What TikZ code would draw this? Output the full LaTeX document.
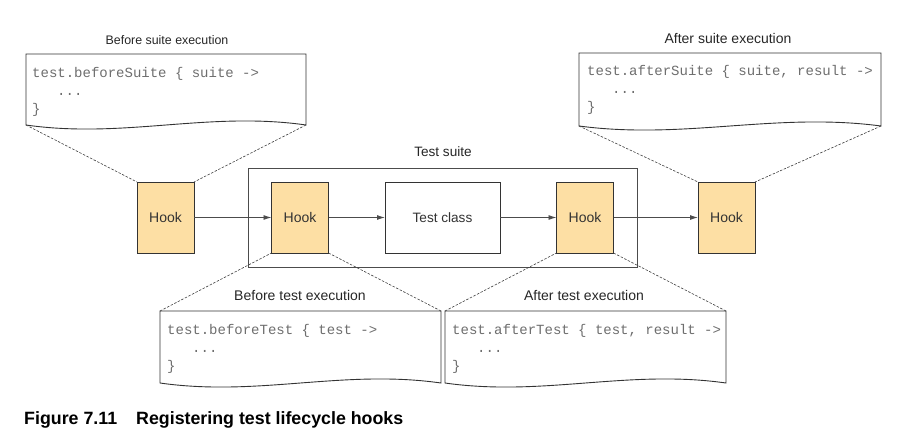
\documentclass[tikz,border=0pt]{standalone}
\usepackage{fontspec}
\setmainfont{Liberation Sans}
\setmonofont{Liberation Mono}
\usetikzlibrary{arrows.meta,calc}
\definecolor{hookfill}{HTML}{FDDFA4}
\definecolor{edge}{HTML}{333333}
\definecolor{codegray}{HTML}{6E6E6E}
\tikzset{
  hookbox/.style={draw=edge, fill=hookfill, line width=0.9pt, minimum width=57pt, minimum height=71pt, inner sep=0pt, outer sep=0pt, font=\fontsize{14}{16}\selectfont, text=black!80},
  classbox/.style={draw=edge, fill=white, line width=0.9pt, minimum width=115pt, minimum height=71pt, inner sep=0pt, outer sep=0pt, font=\fontsize{13.6}{16}\selectfont, text=black!80},
  suitebox/.style={draw=black!70, line width=1pt, minimum width=389pt, minimum height=99pt, inner sep=0pt, outer sep=0pt},
  flow/.style={draw=black!70, line width=0.9pt, -{Latex[length=8pt,width=5pt]}},
  zoomline/.style={draw=black!75, line width=0.6pt, dash pattern=on 2.5pt off 1.5pt},
  docedge/.style={draw=edge, line width=0.9pt, fill=white},
  codetext/.style={anchor=north west, inner sep=0pt, align=left, text=codegray, font=\ttfamily\fontsize{14}{18}\selectfont},
  toplabel/.style={inner sep=0pt, text=black!85, font=\fontsize{12.4}{14}\selectfont},
  botlabel/.style={inner sep=0pt, text=black!85, font=\fontsize{14}{16}\selectfont},
}
\newcommand\mydocbox[5]{%
  \coordinate (#1-tl) at (#2,#4);
  \coordinate (#1-tr) at (#3,#4);
  \coordinate (#1-bl) at (#2,#5);
  \coordinate (#1-br) at (#3,#5);
  \path[docedge] (#1-bl) -- (#1-tl) -- (#1-tr) -- (#1-br)
    .. controls ($(#1-bl)!0.65!(#1-br)+(0,-14)$) and ($(#1-bl)!0.35!(#1-br)+(0,14)$) .. (#1-bl) -- cycle;
}
\begin{document}
\begin{tikzpicture}[x=1pt,y=-1pt]
\useasboundingbox (0,0) rectangle (918,447);

% test suite frame
\node[suitebox] (suite) at (442.5,217.5) {};
\node[botlabel, font=\fontsize{13.6}{16}\selectfont] (suitelbl) at (443,152) {Test suite};

% hooks and class
\node[hookbox] (hbs) at (165.5,217.5) {Hook};
\node[hookbox] (hbt) at (300,217.5) {Hook};
\node[classbox] (tc) at (442.5,217.5) {Test class};
\node[hookbox] (hat) at (585,217.5) {Hook};
\node[hookbox] (has) at (726.5,217.5) {Hook};

\draw[flow] (hbs) -- (hbt);
\draw[flow] (hbt) -- (tc);
\draw[flow] (tc) -- (hat);
\draw[flow] (hat) -- (has);

% document boxes
\mydocbox{bs}{26}{306}{54}{125}
\mydocbox{as}{579}{881}{53}{126}
\mydocbox{bt}{160}{441}{311}{383}
\mydocbox{at}{445}{726}{311}{383}

% labels
\node[toplabel] (bslbl) at (167,40) {Before suite execution};
\node[botlabel] (aslbl) at (728,38) {After suite execution};
\node[botlabel] (btlbl) at (300,295.5) {Before test execution};
\node[botlabel] (atlbl) at (584,295.5) {After test execution};

% code
\node[codetext] (bscode) at (32,67) {test.beforeSuite \{ suite ->\\\hspace*{25pt}...\\\}};
\node[codetext] (ascode) at (587,65) {test.afterSuite \{ suite, result ->\\\hspace*{25pt}...\\\}};
\node[codetext] (btcode) at (167,324) {test.beforeTest \{ test ->\\\hspace*{25pt}...\\\}};
\node[codetext] (atcode) at (452,324) {test.afterTest \{ test, result ->\\\hspace*{25pt}...\\\}};

% zoom lines
\draw[zoomline] (bs-bl) -- (hbs.north west);
\draw[zoomline] (bs-br) -- (hbs.north east);
\draw[zoomline] (as-bl) -- (has.north west);
\draw[zoomline] (as-br) -- (has.north east);
\draw[zoomline] (bt-tl) -- (hbt.south west);
\draw[zoomline] (bt-tr) -- (hbt.south east);
\draw[zoomline] (at-tl) -- (hat.south west);
\draw[zoomline] (at-tr) -- (hat.south east);

% caption
\node[anchor=west, inner sep=0pt, font=\bfseries\fontsize{17.8}{20}\selectfont] (cap) at (24,420) {Figure 7.11\hspace{19pt}Registering test lifecycle hooks};
\end{tikzpicture}
\end{document}
